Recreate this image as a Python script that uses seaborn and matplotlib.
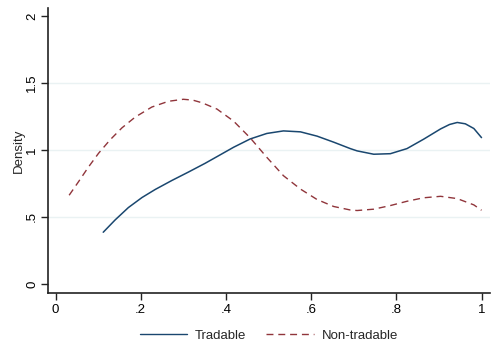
import matplotlib
matplotlib.use("Agg")
import matplotlib.pyplot as plt
import seaborn as sns
import pandas as pd

trad_x = [0.112, 0.140, 0.171, 0.203, 0.234, 0.273, 0.312, 0.351, 0.379, 0.418, 0.457, 0.496,
          0.535, 0.575, 0.614, 0.653, 0.692, 0.708, 0.747, 0.786, 0.825, 0.864, 0.904, 0.925,
          0.943, 0.962, 0.982, 1.000]
trad_y = [0.386, 0.478, 0.570, 0.645, 0.705, 0.772, 0.835, 0.900, 0.950, 1.020, 1.082, 1.123,
          1.142, 1.135, 1.103, 1.058, 1.010, 0.993, 0.968, 0.972, 1.010, 1.080, 1.157, 1.190,
          1.205, 1.195, 1.160, 1.092]

non_x = [0.032, 0.054, 0.077, 0.101, 0.128, 0.156, 0.187, 0.226, 0.265, 0.300, 0.322, 0.344,
         0.379, 0.418, 0.457, 0.496, 0.535, 0.575, 0.614, 0.653, 0.692, 0.708, 0.747, 0.786,
         0.825, 0.864, 0.904, 0.943, 0.982, 1.000]
non_y = [0.662, 0.763, 0.871, 0.975, 1.075, 1.165, 1.245, 1.320, 1.363, 1.378, 1.372, 1.352,
         1.305, 1.215, 1.090, 0.945, 0.808, 0.708, 0.630, 0.578, 0.552, 0.548, 0.558, 0.585,
         0.617, 0.643, 0.654, 0.637, 0.590, 0.550]

x_ticks = [0, 0.2, 0.4, 0.6, 0.8, 1.0]
x_labels = ["0", ".2", ".4", ".6", ".8", "1"]
y_ticks = [0, 0.5, 1.0, 1.5, 2.0]
y_labels = ["0", ".5", "1", "1.5", "2"]

sns.set_style("white")
plt.rcParams["font.family"] = ["Liberation Sans", "DejaVu Sans"]

fig = plt.figure(figsize=(4.92, 3.6), dpi=100)
ax = fig.add_axes([0.097, 0.187, 0.899, 0.790])

df_t = pd.DataFrame({"x": trad_x, "y": trad_y})
df_n = pd.DataFrame({"x": non_x, "y": non_y})
sns.lineplot(data=df_t, x="x", y="y", ax=ax, color="#1a476f", lw=1.1, label="Tradable")
sns.lineplot(data=df_n, x="x", y="y", ax=ax, color="#90353b", lw=1.0, label="Non-tradable",
             dashes=False)
ax.lines[-1].set_dashes((5, 3.5))
for ln in ax.lines:
    ln.set_solid_joinstyle("round")
    ln.set_dash_joinstyle("round")

ax.set_xlim(-0.0183, 1.02)
ax.set_ylim(-0.065, 2.057)
ax.set_xticks(x_ticks)
ax.set_xticklabels(x_labels)
ax.set_yticks(y_ticks)
ax.set_yticklabels(y_labels, rotation=90, va="center")
for yv in [0.5, 1.0, 1.5]:
    ax.axhline(yv, color="#eaf2f3", lw=1.0, zorder=0)

for s in ["top", "right"]:
    ax.spines[s].set_visible(False)
for s in ["left", "bottom"]:
    ax.spines[s].set_color("#222222")
    ax.spines[s].set_linewidth(1.2)
ax.tick_params(axis="both", direction="out", length=5, width=1.0, colors="#222222",
               labelsize=9.5, labelcolor="black", left=True, bottom=True, pad=3)
ax.tick_params(axis="y", pad=2)
ax.set_xlabel("")
ax.set_ylabel("Density", fontsize=9.5, labelpad=1)

leg = ax.legend(loc="upper center", bbox_to_anchor=(0.5, -0.087), ncol=2, frameon=False,
                fontsize=9.5, handlelength=3.6, columnspacing=1.5, handletextpad=0.6)
for h in leg.get_lines():
    h.set_linewidth(1.0)

fig.savefig("out.png", dpi=100)
